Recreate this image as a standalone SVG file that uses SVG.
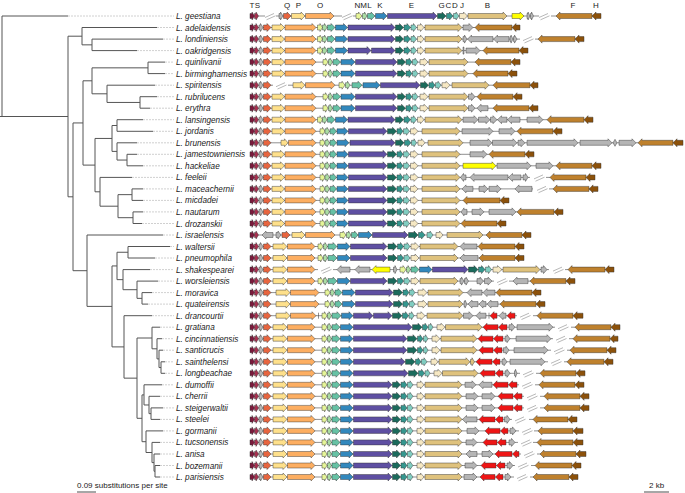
<svg xmlns="http://www.w3.org/2000/svg" width="685" height="493" viewBox="0 0 685 493">
<style>
.lab{font-family:"Liberation Sans",Arial,sans-serif;font-size:8.2px;font-style:italic;fill:#222}
.hd{font-family:"Liberation Sans",Arial,sans-serif;font-size:8px;fill:#222;text-anchor:middle}
.sc{font-family:"Liberation Sans",Arial,sans-serif;font-size:8px;fill:#222}
.ln{fill:none;stroke:#444;stroke-width:.6}
.br{fill:none;stroke:#9a9a9a;stroke-width:.7}
.tr{fill:none;stroke:#555;stroke-width:1}
.ext{fill:none;stroke:#c4c4c4;stroke-width:.8;stroke-dasharray:2 1}
.bar{fill:none;stroke:#222;stroke-width:.8}
.T,.S,.gr,.Q,.P,.O,.N,.M,.L,.K,.E,.G,.C,.D,.J,.B,.F,.H,.R,.Y{stroke:#333;stroke-width:.45;stroke-linejoin:round}
.T{fill:#7b1a3c}.S{fill:#a8304f}.gr{fill:#b5b5b5}.Q{fill:#e8653f}.P{fill:#fee08b}.O{fill:#fdae61}
.N{fill:#e6f598}.M{fill:#abdda4}.L{fill:#66c2a5}.K{fill:#3288bd}.E{fill:#5e4fa2}
.G{fill:#1b6b5c}.C{fill:#35978f}.D{fill:#80cdc1}.J{fill:#f6e8c3}.B{fill:#dfc27d}
.F{fill:#bf812d}.H{fill:#8c510a}.R{fill:#ee1515}.Y{fill:#ffff00}
</style>
<defs>
<path id="brk" class="br" d="M0 1.5l9-4M1.5 3.8l9-4"/>
<g id="ts"><path class="T" d="M250-2.5H252V-4L254.5 0 252 4V2.5H250Z"/><path class="S" d="M254.5-2.5H256V-4L258.5 0 256 4V2.5H254.5Z"/></g>
<g id="lead"><use href="#ts"/><path class="gr" d="M259-2.5H260.5V-4L263 0 260.5 4V2.5H259Z"/><path class="Q" d="M263.5-2.5H267V-4L271 0 267 4V2.5H263.5Z"/></g>
<g id="po"><path class="P" d="M272-2.5H280.5V-4L284.5 0 280.5 4V2.5H272Z"/><path class="O" d="M285-2.5H312V-4L316 0 312 4V2.5H285Z"/></g>
<g id="nk"><path class="N" d="M317.5-2.5H320V-4L322.5 0 320 4V2.5H317.5Z"/><path class="M" d="M322.5-2.5H324.5V-4L327 0 324.5 4V2.5H322.5Z"/><path class="L" d="M327.5-2.5H331V-4L335 0 331 4V2.5H327.5Z"/><path class="K" d="M335.5-2.5H343.5V-4L347.5 0 343.5 4V2.5H335.5Z"/></g>
<g id="gb"><path class="G" d="M395.5-2.5H399.5V-4L403.5 0 399.5 4V2.5H395.5Z"/><path class="C" d="M404-2.5H407V-4L410.5 0 407 4V2.5H404Z"/><path class="D" d="M411-2.5H413.5V-4L416.5 0 413.5 4V2.5H411Z"/><path class="J" d="M417.5-2.5H420.5V-4L424 0 420.5 4V2.5H417.5Z"/><path class="B" d="M425-2.5H458V-4L462 0 458 4V2.5H425Z"/></g>
<g id="mA"><use href="#po"/><use href="#nk"/><path class="E" d="M348-2.5H391V-4L395 0 391 4V2.5H348Z"/><use href="#gb"/></g>
<g id="mB"><use href="#po"/><path class="N" d="M323-2.5H325.5V-4L328 0 325.5 4V2.5H323Z"/><path class="M" d="M328.5-2.5H330V-4L332.5 0 330 4V2.5H328.5Z"/><path class="L" d="M333-2.5H336.5V-4L340.5 0 336.5 4V2.5H333Z"/><path class="K" d="M341-2.5H351V-4L355 0 351 4V2.5H341Z"/><path class="E" d="M355.5-2.5H393V-4L397 0 393 4V2.5H355.5Z"/><path class="G" d="M397.5-2.5H401.5V-4L405.5 0 401.5 4V2.5H397.5Z"/><path class="C" d="M406-2.5H409V-4L412 0 409 4V2.5H406Z"/><path class="D" d="M412.5-2.5H415V-4L418 0 415 4V2.5H412.5Z"/><path class="J" d="M420-2.5H424V-4L428 0 424 4V2.5H420Z"/><path class="B" d="M429-2.5H464V-4L468 0 464 4V2.5H429Z"/></g>
<g id="mM"><use href="#po"/><path class="N" d="M320-2.5H322.5V-4L325 0 322.5 4V2.5H320Z"/><path class="M" d="M325-2.5H327V-4L329.5 0 327 4V2.5H325Z"/><path class="L" d="M330-2.5H333V-4L336.5 0 333 4V2.5H330Z"/><path class="K" d="M337-2.5H344V-4L348 0 344 4V2.5H337Z"/><path class="E" d="M348.5-2.5H383V-4L387 0 383 4V2.5H348.5Z"/><path class="G" d="M387.5-2.5H392.5V-4L396.5 0 392.5 4V2.5H387.5Z"/><path class="C" d="M397-2.5H400V-4L403 0 400 4V2.5H397Z"/><path class="D" d="M403.5-2.5H406.5V-4L409.5 0 406.5 4V2.5H403.5Z"/><path class="J" d="M410.5-2.5H414V-4L418 0 414 4V2.5H410.5Z"/><path class="B" d="M422-2.5H456V-4L460 0 456 4V2.5H422Z"/></g>
<g id="pw"><path class="P" d="M273-2.5H283V-4L287 0 283 4V2.5H273Z"/><path class="O" d="M287.5-2.5H311V-4L315 0 311 4V2.5H287.5Z"/></g>
<g id="mW"><use href="#pw"/><path class="N" d="M318-2.5H320.5V-4L323 0 320.5 4V2.5H318Z"/><path class="M" d="M323.5-2.5H325V-4L327.5 0 325 4V2.5H323.5Z"/><path class="L" d="M328-2.5H333V-4L337 0 333 4V2.5H328Z"/><path class="K" d="M337.5-2.5H346V-4L350 0 346 4V2.5H337.5Z"/><path class="E" d="M350.5-2.5H383V-4L387 0 383 4V2.5H350.5Z"/><path class="G" d="M388-2.5H393V-4L397 0 393 4V2.5H388Z"/><path class="C" d="M397.5-2.5H400.5V-4L403.5 0 400.5 4V2.5H397.5Z"/><path class="D" d="M404-2.5H407V-4L410 0 407 4V2.5H404Z"/><path class="J" d="M411-2.5H415V-4L419 0 415 4V2.5H411Z"/><path class="B" d="M420-2.5H454V-4L458 0 454 4V2.5H420Z"/></g>
<g id="mV"><path class="P" d="M276-2.5H286V-4L290 0 286 4V2.5H276Z"/><path class="O" d="M290.5-2.5H315V-4L319 0 315 4V2.5H290.5Z"/><path class="N" d="M325-2.5H327.5V-4L330 0 327.5 4V2.5H325Z"/><path class="M" d="M330.5-2.5H332V-4L334.5 0 332 4V2.5H330.5Z"/><path class="L" d="M335-2.5H338V-4L342 0 338 4V2.5H335Z"/><path class="K" d="M342.5-2.5H351V-4L355 0 351 4V2.5H342.5Z"/><path class="E" d="M355.5-2.5H389V-4L393 0 389 4V2.5H355.5Z"/><path class="G" d="M393.5-2.5H398.5V-4L402.5 0 398.5 4V2.5H393.5Z"/><path class="C" d="M403-2.5H406V-4L409 0 406 4V2.5H403Z"/><path class="D" d="M409.5-2.5H412V-4L415 0 412 4V2.5H409.5Z"/><path class="J" d="M418-2.5H423V-4L427 0 423 4V2.5H418Z"/><path class="B" d="M428-2.5H459V-4L463 0 459 4V2.5H428Z"/></g>
<g id="pk"><use href="#pw"/><path class="N" d="M322-2.5H324.5V-4L327 0 324.5 4V2.5H322Z"/><path class="M" d="M327.5-2.5H329V-4L331.5 0 329 4V2.5H327.5Z"/><path class="L" d="M332-2.5H336V-4L340 0 336 4V2.5H332Z"/><path class="K" d="M340.5-2.5H349V-4L353 0 349 4V2.5H340.5Z"/></g>
<g id="mZ"><use href="#pk"/><path class="E" d="M353.5-2.5H388V-4L392 0 388 4V2.5H353.5Z"/><path class="G" d="M392.5-2.5H396.5V-4L400.5 0 396.5 4V2.5H392.5Z"/><path class="C" d="M401-2.5H404V-4L407 0 404 4V2.5H401Z"/><path class="D" d="M407.5-2.5H410V-4L413 0 410 4V2.5H407.5Z"/><path class="J" d="M417-2.5H420.5V-4L424 0 420.5 4V2.5H417Z"/><path class="B" d="M425-2.5H458V-4L462 0 458 4V2.5H425Z"/></g>
<g id="e29"><path class="E" d="M353.5-2.5H403V-4L407 0 403 4V2.5H353.5Z"/><path class="G" d="M407.5-2.5H413V-4L417 0 413 4V2.5H407.5Z"/><path class="C" d="M417.5-2.5H420V-4L423 0 420 4V2.5H417.5Z"/><path class="D" d="M423.5-2.5H425.5V-4L428 0 425.5 4V2.5H423.5Z"/><path class="J" d="M432-2.5H436V-4L440 0 436 4V2.5H432Z"/><path class="B" d="M441-2.5H473V-4L477 0 473 4V2.5H441Z"/></g>
</defs>
<rect width="685" height="493" fill="#fff"/>

<g id="gene-labels">
<text class="hd" x="252" y="8">T</text><text class="hd" x="257.5" y="8">S</text><text class="hd" x="287" y="8">Q</text><text class="hd" x="298.5" y="8">P</text><text class="hd" x="320" y="8">O</text><text class="hd" x="357.5" y="8">N</text><text class="hd" x="363.5" y="8">M</text><text class="hd" x="369.5" y="8">L</text><text class="hd" x="380" y="8">K</text><text class="hd" x="411.5" y="8">E</text><text class="hd" x="441.5" y="8">G</text><text class="hd" x="448.5" y="8">C</text><text class="hd" x="455" y="8">D</text><text class="hd" x="462" y="8">J</text><text class="hd" x="487.5" y="8">B</text><text class="hd" x="573" y="8">F</text><text class="hd" x="596" y="8">H</text>
</g>

<g id="connectors">
<path class="ext" d="M68 16H174M157 27.5H174M163 39.1H174M137 50.6H174M165 62.1H174M165 73.6H174M155 85.2H174M157 96.7H174M150 108.2H174M143 119.7H174M153 131.3H174M137 142.8H174M137 154.3H174M143 165.8H174M132 177.4H174M143 188.9H174M143 200.4H174M143 211.9H174M142 223.5H174M163 235H174M170 246.5H174M155 258H174M150 269.6H174M158 281.1H174M152 292.6H174M148 304.1H174M152 315.7H174M160 327.2H174M162 338.7H174M163 350.2H174M165 361.8H174M165 373.3H174M162 384.8H174M160 396.3H174M163 407.9H174M160 419.4H174M163 430.9H174M160 442.4H174M160 454H174M160 465.5H174M160 477H174"/>
<path class="tr" d="M2 16V116.5M0 116.5H68M2 16H68
M68 36.2V196.8M68 36.2H82M68 196.8H73
M82 27.5V44.85M82 27.5H157M82 44.85H92
M92 39.1V50.6M92 39.1H163M92 50.6H137
M73 122.95V270.7M73 122.95H83M73 270.7H87
M83 80.8V165.1M83 80.8H92M83 165.1H95
M92 67.85V93.8M92 67.85H148M92 93.8H107
M148 62.1V73.6M148 62.1H165M148 73.6H165
M107 85.2V102.45M107 85.2H155M107 102.45H140
M140 96.7V108.2M140 96.7H157M140 108.2H150
M95 138.45V191.8M95 138.45H112M95 191.8H100
M112 125.5V151.4M112 125.5H117M112 151.4H117
M117 119.7V131.3M117 119.7H143M117 131.3H153
M117 142.8V160.05M117 142.8H137M117 160.05H127
M127 154.3V165.8M127 154.3H137M127 165.8H143
M100 177.4V206.2M100 177.4H132M100 206.2H118
M118 194.65V217.7M118 194.65H132M118 217.7H133
M132 188.9V200.4M132 188.9H143M132 200.4H143
M133 211.9V223.5M133 211.9H143M133 223.5H142
M87 235V306.4M87 235H163M87 306.4H112
M112 265.95V346.9M112 265.95H117M112 346.9H124
M117 252.25V279.65M117 252.25H128M117 279.65H123
M128 246.5V258M128 246.5H170M128 258H155
M123 269.6V289.7M123 269.6H150M123 289.7H137
M137 281.1V298.35M137 281.1H158M137 298.35H142
M142 292.6V304.1M142 292.6H152M142 304.1H148
M124 315.7V378.15M124 315.7H152M124 378.15H137
M137 338V418.3M137 338H152M137 418.3H142
M152 327.2V348.8M152 327.2H160M152 348.8H157
M157 338.7V358.9M157 338.7H162M157 358.9H159
M159 350.2V367.55M159 350.2H163M159 367.55H161
M161 361.8V373.3M161 361.8H165M161 373.3H165
M142 394.9V441.7M142 394.9H144M142 441.7H146
M144 384.8V404.98M144 384.8H162M144 404.98H149
M149 396.3V413.65M149 396.3H160M149 413.65H151
M151 407.9V419.4M151 407.9H163M151 419.4H160
M146 430.9V452.5M146 430.9H163M146 452.5H152
M152 442.4V462.6M152 442.4H160M152 462.6H154
M154 454V471.25M154 454H160M154 471.25H155
M155 465.5V477M155 465.5H160M155 477H160"/>
</g>

<g id="geestiana" transform="translate(0,16)"><text class="lab" x="176" y="3">L. geestiana</text>
<path class="ln" d="M250 0H265M276 0H342M353 0H539M551 0H601"/>
<use href="#ts"/><use href="#brk" x="265"/>
<path class="gr" d="M279-2.5H280.5V-4L283 0 280.5 4V2.5H279Z"/><path class="Q" d="M283.5-2.5H287V-4L291 0 287 4V2.5H283.5Z"/><path class="P" d="M291.5-2.5H301V-4L305 0 301 4V2.5H291.5Z"/><path class="O" d="M305.5-2.5H330V-4L334 0 330 4V2.5H305.5Z"/>
<use href="#brk" x="342"/>
<path class="N" d="M356-2.5H358.5V-4L362 0 358.5 4V2.5H356Z"/><path class="M" d="M362.5-2.5H364.5V-4L367 0 364.5 4V2.5H362.5Z"/><path class="L" d="M367.5-2.5H371V-4L375 0 371 4V2.5H367.5Z"/><path class="K" d="M375.5-2.5H383V-4L387 0 383 4V2.5H375.5Z"/><path class="E" d="M387.5-2.5H433V-4L437 0 433 4V2.5H387.5Z"/><path class="G" d="M437.5-2.5H442V-4L446 0 442 4V2.5H437.5Z"/><path class="C" d="M446.5-2.5H449.5V-4L453 0 449.5 4V2.5H446.5Z"/><path class="D" d="M453.5-2.5H456V-4L459 0 456 4V2.5H453.5Z"/><path class="J" d="M459.5-2.5H463.5V-4L467.5 0 463.5 4V2.5H459.5Z"/><path class="B" d="M468-2.5H503V-4L507 0 503 4V2.5H468Z"/><path class="Y" d="M512-2.5H520V-4L524 0 520 4V2.5H512Z"/><path class="gr" d="M527-2.5H528V-4L530 0 528 4V2.5H527Z"/><path class="gr" d="M530.5-2.5H531.5V-4L533.5 0 531.5 4V2.5H530.5Z"/>
<use href="#brk" x="539"/>
<path class="F" d="M592-2.5H560V-4L556 0 560 4V2.5H592Z"/><path class="H" d="M601-2.5H596V-4L592 0 596 4V2.5H601Z"/></g>

<g id="adelaidensis" transform="translate(0,27.5)"><text class="lab" x="176" y="3">L. adelaidensis</text>
<path class="ln" d="M250 0H520"/><use href="#lead"/><use href="#mA"/>
<path class="gr" d="M463-2.5H469V-4L473 0 469 4V2.5H463Z"/><path class="F" d="M512-2.5H479V-4L475 0 479 4V2.5H512Z"/><path class="H" d="M520-2.5H516V-4L512 0 516 4V2.5H520Z"/></g>

<g id="londiniensis" transform="translate(0,39.1)"><text class="lab" x="176" y="3">L. londiniensis</text>
<path class="ln" d="M250 0H520M535 0H584"/><use href="#lead"/><use href="#mA"/>
<path class="gr" d="M463-2.5H464.5V-4L467 0 464.5 4V2.5H463Z"/><path class="gr" d="M493-2.5H471.5V-4L467.5 0 471.5 4V2.5H493Z"/><path class="gr" d="M509-2.5H497.5V-4L493.5 0 497.5 4V2.5H509Z"/><path class="gr" d="M510-2.5H511V-4L513 0 511 4V2.5H510Z"/><path class="gr" d="M513.5-2.5H514.5V-4L517 0 514.5 4V2.5H513.5Z"/>
<use href="#brk" x="523"/>
<path class="F" d="M575-2.5H542V-4L538 0 542 4V2.5H575Z"/><path class="H" d="M584-2.5H579V-4L575 0 579 4V2.5H584Z"/></g>

<g id="oakridgensis" transform="translate(0,50.6)"><text class="lab" x="176" y="3">L. oakridgensis</text>
<path class="ln" d="M250 0H528"/><use href="#lead"/><use href="#po"/><use href="#nk"/>
<path class="E" d="M348-2.5H367V-4L371 0 367 4V2.5H348Z"/><path class="E" d="M371.5-2.5H391V-4L395 0 391 4V2.5H371.5Z"/><use href="#gb"/>
<path class="gr" d="M463-3.5h1v7h-1Z"/><path class="gr" d="M466-2.5H476V-4L480 0 476 4V2.5H466Z"/><path class="F" d="M519-2.5H487V-4L483 0 487 4V2.5H519Z"/><path class="H" d="M528-2.5H523V-4L519 0 523 4V2.5H528Z"/></g>

<g id="quinlivanii" transform="translate(0,62.1)"><text class="lab" x="176" y="3">L. quinlivanii</text>
<path class="ln" d="M250 0H520"/><use href="#lead"/><use href="#mB"/>
<path class="F" d="M511-2.5H479V-4L475 0 479 4V2.5H511Z"/><path class="H" d="M520-2.5H515V-4L511 0 515 4V2.5H520Z"/></g>

<g id="birminghamensis" transform="translate(0,73.6)"><text class="lab" x="176" y="3">L. birminghamensis</text>
<path class="ln" d="M250 0H517"/><use href="#lead"/><use href="#mB"/>
<path class="F" d="M508-2.5H477V-4L473 0 477 4V2.5H508Z"/><path class="H" d="M517-2.5H512V-4L508 0 512 4V2.5H517Z"/></g>

<g id="spiritensis" transform="translate(0,85.2)"><text class="lab" x="176" y="3">L. spiritensis</text>
<path class="ln" d="M250 0H273M288 0H538"/><use href="#lead"/><use href="#brk" x="276"/>
<path class="P" d="M293-2.5H301V-4L305 0 301 4V2.5H293Z"/><path class="O" d="M305.5-2.5H331V-4L335 0 331 4V2.5H305.5Z"/><path class="N" d="M339-2.5H342V-4L345 0 342 4V2.5H339Z"/><path class="M" d="M345.5-2.5H347.5V-4L350 0 347.5 4V2.5H345.5Z"/><path class="L" d="M352-2.5H358V-4L362 0 358 4V2.5H352Z"/><path class="K" d="M363-2.5H376V-4L380 0 376 4V2.5H363Z"/><path class="E" d="M380.5-2.5H416V-4L420 0 416 4V2.5H380.5Z"/><path class="G" d="M420.5-2.5H424.5V-4L428.5 0 424.5 4V2.5H420.5Z"/><path class="C" d="M429-2.5H432V-4L435 0 432 4V2.5H429Z"/><path class="D" d="M435.5-2.5H438V-4L441 0 438 4V2.5H435.5Z"/><path class="J" d="M442-2.5H446V-4L450 0 446 4V2.5H442Z"/><path class="B" d="M452-2.5H485V-4L489 0 485 4V2.5H452Z"/><path class="F" d="M530-2.5H497V-4L493 0 497 4V2.5H530Z"/><path class="H" d="M538-2.5H534V-4L530 0 534 4V2.5H538Z"/></g>

<g id="rubrilucens" transform="translate(0,96.7)"><text class="lab" x="176" y="3">L. rubrilucens</text>
<path class="ln" d="M250 0H522"/><use href="#lead"/><use href="#mB"/>
<path class="gr" d="M468.5-2.5H471.5V-4L475 0 471.5 4V2.5H468.5Z"/><path class="F" d="M513-2.5H481V-4L477 0 481 4V2.5H513Z"/><path class="H" d="M522-2.5H517V-4L513 0 517 4V2.5H522Z"/></g>

<g id="erythra" transform="translate(0,108.2)"><text class="lab" x="176" y="3">L. erythra</text>
<path class="ln" d="M250 0H538"/><use href="#lead"/><use href="#mB"/>
<path class="gr" d="M468.5-2.5H471.5V-4L475 0 471.5 4V2.5H468.5Z"/><path class="gr" d="M488-2.5H481V-4L477 0 481 4V2.5H488Z"/><path class="F" d="M529-2.5H497V-4L493 0 497 4V2.5H529Z"/><path class="H" d="M538-2.5H533V-4L529 0 533 4V2.5H538Z"/></g>

<g id="lansingensis" transform="translate(0,119.7)"><text class="lab" x="176" y="3">L. lansingensis</text>
<path class="ln" d="M250 0H593"/><use href="#lead"/><use href="#mA"/>
<path class="gr" d="M463-2.5H474V-4L478 0 474 4V2.5H463Z"/><path class="gr" d="M478.5-2.5H486V-4L490 0 486 4V2.5H478.5Z"/><path class="gr" d="M490.5-2.5H493V-4L497 0 493 4V2.5H490.5Z"/><path class="gr" d="M507-2.5H501.5V-4L497.5 0 501.5 4V2.5H507Z"/><path class="gr" d="M520-2.5H511.5V-4L507.5 0 511.5 4V2.5H520Z"/><path class="gr" d="M527-2.5H539V-4L543 0 539 4V2.5H527Z"/><path class="F" d="M584-2.5H551V-4L547 0 551 4V2.5H584Z"/><path class="H" d="M593-2.5H588V-4L584 0 588 4V2.5H593Z"/></g>

<g id="jordanis" transform="translate(0,131.3)"><text class="lab" x="176" y="3">L. jordanis</text>
<path class="ln" d="M250 0H562"/><use href="#lead"/><use href="#mM"/>
<path class="gr" d="M462-2.5H489V-4L493 0 489 4V2.5H462Z"/><path class="gr" d="M499-2.5H511V-4L515 0 511 4V2.5H499Z"/><path class="F" d="M553-2.5H521V-4L517 0 521 4V2.5H553Z"/><path class="H" d="M562-2.5H557V-4L553 0 557 4V2.5H562Z"/></g>

<g id="brunensis" transform="translate(0,142.8)"><text class="lab" x="176" y="3">L. brunensis</text>
<path class="ln" d="M250 0H683"/><use href="#lead"/>
<path class="P" d="M281-2.5H284.5V-4L288 0 284.5 4V2.5H281Z"/><path class="O" d="M288.5-2.5H312V-4L316 0 312 4V2.5H288.5Z"/><path class="N" d="M320-2.5H322.5V-4L325 0 322.5 4V2.5H320Z"/><path class="M" d="M325-2.5H327V-4L329.5 0 327 4V2.5H325Z"/><path class="L" d="M330-2.5H333V-4L336.5 0 333 4V2.5H330Z"/><path class="K" d="M337-2.5H345V-4L349 0 345 4V2.5H337Z"/><path class="E" d="M350-2.5H391V-4L395 0 391 4V2.5H350Z"/><path class="G" d="M395.5-2.5H400V-4L404 0 400 4V2.5H395.5Z"/><path class="C" d="M404.5-2.5H407.5V-4L411 0 407.5 4V2.5H404.5Z"/><path class="D" d="M411.5-2.5H414V-4L416.5 0 414 4V2.5H411.5Z"/><path class="J" d="M418-2.5H421.5V-4L425 0 421.5 4V2.5H418Z"/><path class="B" d="M428-2.5H459V-4L463 0 459 4V2.5H428Z"/>
<path class="gr" d="M470-2.5H488V-4L492 0 488 4V2.5H470Z"/><path class="gr" d="M492.5-2.5H513V-4L517 0 513 4V2.5H492.5Z"/><path class="gr" d="M518-2.5H521V-4L525 0 521 4V2.5H518Z"/><path class="gr" d="M527-2.5H574V-4L578 0 574 4V2.5H527Z"/><path class="gr" d="M580-2.5H608V-4L612 0 608 4V2.5H580Z"/><path class="gr" d="M613 0L615-3.5 617 0 615 3.5Z"/><path class="gr" d="M619-2.5H632V-4L636 0 632 4V2.5H619Z"/><path class="F" d="M673-2.5H642V-4L638 0 642 4V2.5H673Z"/><path class="H" d="M683-2.5H677V-4L673 0 677 4V2.5H683Z"/></g>

<g id="jamestowniensis" transform="translate(0,154.3)"><text class="lab" x="176" y="3">L. jamestowniensis</text>
<path class="ln" d="M250 0H534"/><use href="#lead"/><use href="#mM"/>
<path class="gr" d="M470-2.5H483V-4L487 0 483 4V2.5H470Z"/><path class="F" d="M525-2.5H493V-4L489 0 493 4V2.5H525Z"/><path class="H" d="M534-2.5H529V-4L525 0 529 4V2.5H534Z"/></g>

<g id="hackeliae" transform="translate(0,165.8)"><text class="lab" x="176" y="3">L. hackeliae</text>
<path class="ln" d="M250 0H601"/><use href="#lead"/><use href="#mM"/>
<path class="Y" d="M463-2.5H492V-4L496 0 492 4V2.5H463Z"/><path class="gr" d="M497-2.5H527V-4L531 0 527 4V2.5H497Z"/><path class="gr" d="M536-2.5H549V-4L553 0 549 4V2.5H536Z"/><path class="F" d="M592-2.5H560V-4L556 0 560 4V2.5H592Z"/><path class="H" d="M601-2.5H596V-4L592 0 596 4V2.5H601Z"/></g>

<g id="feeleii" transform="translate(0,177.4)"><text class="lab" x="176" y="3">L. feeleii</text>
<path class="ln" d="M250 0H530M546 0H595"/><use href="#lead"/><use href="#mM"/>
<path class="gr" d="M466-2.5H463.5V-4L460.5 0 463.5 4V2.5H466Z"/><path class="gr" d="M508-2.5H474V-4L470 0 474 4V2.5H508Z"/><path class="gr" d="M521-2.5H512.5V-4L508.5 0 512.5 4V2.5H521Z"/><path class="gr" d="M523-2.5H525.5V-4L528 0 525.5 4V2.5H523Z"/>
<use href="#brk" x="534"/>
<path class="F" d="M586-2.5H554V-4L550 0 554 4V2.5H586Z"/><path class="H" d="M595-2.5H590V-4L586 0 590 4V2.5H595Z"/></g>

<g id="maceachernii" transform="translate(0,188.9)"><text class="lab" x="176" y="3">L. maceachernii</text>
<path class="ln" d="M250 0H533M549 0H598"/><use href="#lead"/><use href="#mM"/>
<path class="gr" d="M473-2.5H466V-4L462 0 466 4V2.5H473Z"/><path class="gr" d="M479-2.5H484V-4L488 0 484 4V2.5H479Z"/><path class="gr" d="M489-2.5H497V-4L501 0 497 4V2.5H489Z"/><path class="gr" d="M532-2.5H519V-4L515 0 519 4V2.5H532Z"/>
<use href="#brk" x="537"/>
<path class="F" d="M589-2.5H557V-4L553 0 557 4V2.5H589Z"/><path class="H" d="M598-2.5H593V-4L589 0 593 4V2.5H598Z"/></g>

<g id="micdadei" transform="translate(0,200.4)"><text class="lab" x="176" y="3">L. micdadei</text>
<path class="ln" d="M250 0H509"/><use href="#lead"/><use href="#mM"/>
<path class="F" d="M500-2.5H467V-4L463 0 467 4V2.5H500Z"/><path class="H" d="M509-2.5H504V-4L500 0 504 4V2.5H509Z"/></g>

<g id="nautarum" transform="translate(0,211.9)"><text class="lab" x="176" y="3">L. nautarum</text>
<path class="ln" d="M250 0H563"/><use href="#lead"/><use href="#mM"/>
<path class="gr" d="M467-2.5H464V-4L461 0 464 4V2.5H467Z"/><path class="gr" d="M472-2.5H480V-4L484 0 480 4V2.5H472Z"/><path class="gr" d="M489-2.5H512V-4L516 0 512 4V2.5H489Z"/><path class="F" d="M554-2.5H521V-4L517 0 521 4V2.5H554Z"/><path class="H" d="M563-2.5H558V-4L554 0 558 4V2.5H563Z"/></g>

<g id="drozanskii" transform="translate(0,223.5)"><text class="lab" x="176" y="3">L. drozanskii</text>
<path class="ln" d="M250 0H506"/><use href="#lead"/><use href="#mM"/>
<path class="F" d="M497-2.5H465V-4L461 0 465 4V2.5H497Z"/><path class="H" d="M506-2.5H501V-4L497 0 501 4V2.5H506Z"/></g>

<g id="israelensis" transform="translate(0,235)"><text class="lab" x="176" y="3">L. israelensis</text>
<path class="ln" d="M250 0H531"/><use href="#ts"/>
<path class="gr" d="M273-2.5H266V-4L262 0 266 4V2.5H273Z"/><path class="gr" d="M276-2.5H278V-4L281 0 278 4V2.5H276Z"/><path class="Q" d="M282-2.5H286V-4L290 0 286 4V2.5H282Z"/><path class="P" d="M292-2.5H301V-4L305 0 301 4V2.5H292Z"/><path class="O" d="M305.5-2.5H331V-4L335 0 331 4V2.5H305.5Z"/><path class="N" d="M340-2.5H343V-4L346 0 343 4V2.5H340Z"/><path class="M" d="M346.5-2.5H348.5V-4L351 0 348.5 4V2.5H346.5Z"/><path class="L" d="M351.5-2.5H354.5V-4L358 0 354.5 4V2.5H351.5Z"/><path class="K" d="M358.5-2.5H368V-4L372 0 368 4V2.5H358.5Z"/><path class="E" d="M372.5-2.5H404V-4L408 0 404 4V2.5H372.5Z"/><path class="G" d="M408.5-2.5H414V-4L418 0 414 4V2.5H408.5Z"/><path class="C" d="M418.5-2.5H421.5V-4L425 0 421.5 4V2.5H418.5Z"/><path class="D" d="M427-2.5H430V-4L433 0 430 4V2.5H427Z"/><path class="J" d="M436-2.5H439.5V-4L443 0 439.5 4V2.5H436Z"/><path class="B" d="M447-2.5H479V-4L483 0 479 4V2.5H447Z"/><path class="F" d="M522-2.5H490V-4L486 0 490 4V2.5H522Z"/><path class="H" d="M531-2.5H526V-4L522 0 526 4V2.5H531Z"/></g>

<g id="waltersii" transform="translate(0,246.5)"><text class="lab" x="176" y="3">L. waltersii</text>
<path class="ln" d="M250 0H524"/><use href="#lead"/><use href="#mW"/>
<path class="gr" d="M477-2.5H464V-4L460 0 464 4V2.5H477Z"/><path class="F" d="M515-2.5H482V-4L478 0 482 4V2.5H515Z"/><path class="H" d="M524-2.5H519V-4L515 0 519 4V2.5H524Z"/></g>

<g id="pneumophila" transform="translate(0,258)"><text class="lab" x="176" y="3">L. pneumophila</text>
<path class="ln" d="M250 0H524"/><use href="#lead"/><use href="#mW"/>
<path class="gr" d="M478-2.5H464V-4L460 0 464 4V2.5H478Z"/><path class="F" d="M515-2.5H483V-4L479 0 483 4V2.5H515Z"/><path class="H" d="M524-2.5H519V-4L515 0 519 4V2.5H524Z"/></g>

<g id="shakespearei" transform="translate(0,269.6)"><text class="lab" x="176" y="3">L. shakespearei</text>
<path class="ln" d="M250 0H318M333 0H549M565 0H614"/><use href="#lead"/><use href="#pw"/>
<use href="#brk" x="321"/>
<path class="gr" d="M350-2.5H341V-4L337 0 341 4V2.5H350Z"/><path class="gr" d="M370-2.5H359V-4L355 0 359 4V2.5H370Z"/><path class="Y" d="M390-2.5H376V-4L372 0 376 4V2.5H390Z"/><path class="gr" d="M393.5-2.5H395V-4L397 0 395 4V2.5H393.5Z"/><path class="N" d="M400-2.5H403V-4L406 0 403 4V2.5H400Z"/><path class="M" d="M406.5-2.5H408V-4L410.5 0 408 4V2.5H406.5Z"/><path class="L" d="M411-2.5H415V-4L419 0 415 4V2.5H411Z"/><path class="K" d="M419.5-2.5H428V-4L432 0 428 4V2.5H419.5Z"/><path class="E" d="M432.5-2.5H464V-4L468 0 464 4V2.5H432.5Z"/><path class="G" d="M468.5-2.5H474V-4L478 0 474 4V2.5H468.5Z"/><path class="C" d="M478.5-2.5H481.5V-4L485 0 481.5 4V2.5H478.5Z"/><path class="D" d="M485.5-2.5H488.5V-4L491.5 0 488.5 4V2.5H485.5Z"/><path class="J" d="M493-2.5H497.5V-4L502 0 497.5 4V2.5H493Z"/><path class="B" d="M503-2.5H536V-4L540 0 536 4V2.5H503Z"/><path class="gr" d="M541-2.5H543.5V-4L547 0 543.5 4V2.5H541Z"/>
<use href="#brk" x="553"/>
<path class="F" d="M605-2.5H572V-4L568 0 572 4V2.5H605Z"/><path class="H" d="M614-2.5H609V-4L605 0 609 4V2.5H614Z"/></g>

<g id="worsleiensis" transform="translate(0,281.1)"><text class="lab" x="176" y="3">L. worsleiensis</text>
<path class="ln" d="M250 0H494M509 0H575"/><use href="#lead"/><use href="#mW"/>
<path class="gr" d="M460-2.5H461.5V-4L464 0 461.5 4V2.5H460Z"/><path class="gr" d="M464.5-2.5H466V-4L468.5 0 466 4V2.5H464.5Z"/><path class="gr" d="M477-2.5H480V-4L483.5 0 480 4V2.5H477Z"/><path class="gr" d="M484.5-2.5H488V-4L492 0 488 4V2.5H484.5Z"/>
<use href="#brk" x="497"/>
<path class="gr" d="M528-2.5H517V-4L513 0 517 4V2.5H528Z"/><path class="F" d="M566-2.5H534V-4L530 0 534 4V2.5H566Z"/><path class="H" d="M575-2.5H570V-4L566 0 570 4V2.5H575Z"/></g>

<g id="moravica" transform="translate(0,292.6)"><text class="lab" x="176" y="3">L. moravica</text>
<path class="ln" d="M250 0H541"/><use href="#lead"/><use href="#mV"/>
<path class="gr" d="M482-2.5H471V-4L467 0 471 4V2.5H482Z"/><path class="gr" d="M495-2.5H487V-4L483 0 487 4V2.5H495Z"/><path class="F" d="M532-2.5H500V-4L496 0 500 4V2.5H532Z"/><path class="H" d="M541-2.5H536V-4L532 0 536 4V2.5H541Z"/></g>

<g id="quateirensis" transform="translate(0,304.1)"><text class="lab" x="176" y="3">L. quateirensis</text>
<path class="ln" d="M250 0H545"/><use href="#lead"/><use href="#mV"/>
<path class="gr" d="M464-2.5H465V-4L467 0 465 4V2.5H464Z"/><path class="gr" d="M478-2.5H472V-4L468 0 472 4V2.5H478Z"/><path class="gr" d="M486-2.5H483V-4L479 0 483 4V2.5H486Z"/><path class="gr" d="M498-2.5H491V-4L487 0 491 4V2.5H498Z"/><path class="F" d="M536-2.5H504V-4L500 0 504 4V2.5H536Z"/><path class="H" d="M545-2.5H540V-4L536 0 540 4V2.5H545Z"/></g>

<g id="drancourtii" transform="translate(0,315.7)"><text class="lab" x="176" y="3">L. drancourtii</text>
<path class="ln" d="M250 0H517M533 0H583M318.5-3V3M489-3V3"/><use href="#lead"/>
<path class="P" d="M276-2.5H286V-4L290 0 286 4V2.5H276Z"/><path class="O" d="M290.5-2.5H312V-4L316 0 312 4V2.5H290.5Z"/><path class="N" d="M322-2.5H324.5V-4L327 0 324.5 4V2.5H322Z"/><path class="M" d="M327.5-2.5H329V-4L331.5 0 329 4V2.5H327.5Z"/><path class="L" d="M332-2.5H337V-4L341 0 337 4V2.5H332Z"/><path class="K" d="M341.5-2.5H349V-4L353 0 349 4V2.5H341.5Z"/><path class="E" d="M353.5-2.5H369V-4L373 0 369 4V2.5H353.5Z"/><path class="E" d="M373.5-2.5H388V-4L392 0 388 4V2.5H373.5Z"/><path class="G" d="M392.5-2.5H398V-4L402 0 398 4V2.5H392.5Z"/><path class="C" d="M402.5-2.5H405.5V-4L408.5 0 405.5 4V2.5H402.5Z"/><path class="D" d="M409-2.5H411.5V-4L414 0 411.5 4V2.5H409Z"/><path class="J" d="M417-2.5H421V-4L425 0 421 4V2.5H417Z"/><path class="B" d="M427-2.5H459V-4L463 0 459 4V2.5H427Z"/>
<path class="gr" d="M463.5-2.5H469V-4L473 0 469 4V2.5H463.5Z"/><path class="gr" d="M486-2.5H480V-4L476 0 480 4V2.5H486Z"/><path class="R" d="M497-2.5H494V-4L490 0 494 4V2.5H497Z"/><path class="gr" d="M506-2.5H503V-4L499 0 503 4V2.5H506Z"/><path class="R" d="M515-2.5H511V-4L507 0 511 4V2.5H515Z"/>
<use href="#brk" x="520"/>
<path class="F" d="M573-2.5H541V-4L537 0 541 4V2.5H573Z"/><path class="H" d="M583-2.5H577V-4L573 0 577 4V2.5H583Z"/></g>

<g id="gratiana" transform="translate(0,327.2)"><text class="lab" x="176" y="3">L. gratiana</text>
<path class="ln" d="M250 0H555M571 0H620"/><use href="#lead"/><use href="#pk"/>
<path class="E" d="M353.5-2.5H408V-4L412 0 408 4V2.5H353.5Z"/><path class="G" d="M412.5-2.5H418V-4L422 0 418 4V2.5H412.5Z"/><path class="C" d="M422.5-2.5H425V-4L428 0 425 4V2.5H422.5Z"/><path class="D" d="M428.5-2.5H430.5V-4L433 0 430.5 4V2.5H428.5Z"/><path class="J" d="M437-2.5H441V-4L445 0 441 4V2.5H437Z"/><path class="B" d="M445.5-2.5H478V-4L482 0 478 4V2.5H445.5Z"/>
<path class="R" d="M498-2.5H487V-4L483 0 487 4V2.5H498Z"/><path class="R" d="M507-2.5H502.5V-4L498.5 0 502.5 4V2.5H507Z"/><path class="gr" d="M509-2.5H511.5V-4L515 0 511.5 4V2.5H509Z"/><path class="gr" d="M517-2.5H549V-4L553 0 549 4V2.5H517Z"/>
<use href="#brk" x="558"/>
<path class="F" d="M611-2.5H579V-4L575 0 579 4V2.5H611Z"/><path class="H" d="M620-2.5H615V-4L611 0 615 4V2.5H620Z"/></g>

<g id="cincinnatiensis" transform="translate(0,338.7)"><text class="lab" x="176" y="3">L. cincinnatiensis</text>
<path class="ln" d="M250 0H553M569 0H618"/><use href="#lead"/><use href="#pk"/><use href="#e29"/>
<path class="R" d="M493-2.5H482V-4L478 0 482 4V2.5H493Z"/><path class="R" d="M503-2.5H497.5V-4L493.5 0 497.5 4V2.5H503Z"/><path class="gr" d="M505-2.5H507V-4L510 0 507 4V2.5H505Z"/><path class="gr" d="M516-2.5H547V-4L551 0 547 4V2.5H516Z"/>
<use href="#brk" x="556"/>
<path class="F" d="M610-2.5H577V-4L573 0 577 4V2.5H610Z"/><path class="H" d="M618-2.5H614V-4L610 0 614 4V2.5H618Z"/></g>

<g id="santicrucis" transform="translate(0,350.2)"><text class="lab" x="176" y="3">L. santicrucis</text>
<path class="ln" d="M250 0H551M567 0H616"/><use href="#lead"/><use href="#pk"/><use href="#e29"/>
<path class="R" d="M493-2.5H483V-4L479 0 483 4V2.5H493Z"/><path class="R" d="M502-2.5H497.5V-4L493.5 0 497.5 4V2.5H502Z"/><path class="gr" d="M503.5-2.5H506V-4L509 0 506 4V2.5H503.5Z"/><path class="gr" d="M514-2.5H544V-4L548 0 544 4V2.5H514Z"/>
<use href="#brk" x="554"/>
<path class="F" d="M607-2.5H574V-4L570 0 574 4V2.5H607Z"/><path class="H" d="M616-2.5H611V-4L607 0 611 4V2.5H616Z"/></g>

<g id="sainthelensi" transform="translate(0,361.8)"><text class="lab" x="176" y="3">L. sainthelensi</text>
<path class="ln" d="M250 0H548M564 0H613"/><use href="#lead"/><use href="#pk"/>
<path class="E" d="M353.5-2.5H401V-4L405 0 401 4V2.5H353.5Z"/><path class="G" d="M405.5-2.5H411V-4L415 0 411 4V2.5H405.5Z"/><path class="C" d="M415.5-2.5H418V-4L421 0 418 4V2.5H415.5Z"/><path class="D" d="M421.5-2.5H424V-4L427 0 424 4V2.5H421.5Z"/><path class="J" d="M431-2.5H434.5V-4L438 0 434.5 4V2.5H431Z"/><path class="B" d="M439-2.5H466V-4L470 0 466 4V2.5H439Z"/><path class="B" d="M470.5-2.5H472V-4L474.5 0 472 4V2.5H470.5Z"/>
<path class="R" d="M492-2.5H480V-4L476 0 480 4V2.5H492Z"/><path class="R" d="M500-2.5H496.5V-4L492.5 0 496.5 4V2.5H500Z"/><path class="gr" d="M502-2.5H504V-4L507 0 504 4V2.5H502Z"/><path class="gr" d="M510-2.5H541V-4L545 0 541 4V2.5H510Z"/>
<use href="#brk" x="551"/>
<path class="F" d="M604-2.5H571V-4L567 0 571 4V2.5H604Z"/><path class="H" d="M613-2.5H608V-4L604 0 608 4V2.5H613Z"/></g>

<g id="longbeachae" transform="translate(0,373.3)"><text class="lab" x="176" y="3">L. longbeachae</text>
<path class="ln" d="M250 0H520M536 0H585"/><use href="#lead"/><use href="#pk"/>
<path class="E" d="M353.5-2.5H404V-4L408 0 404 4V2.5H353.5Z"/><path class="G" d="M408.5-2.5H414V-4L418 0 414 4V2.5H408.5Z"/><path class="C" d="M418.5-2.5H421.5V-4L424.5 0 421.5 4V2.5H418.5Z"/><path class="D" d="M425-2.5H427.5V-4L430 0 427.5 4V2.5H425Z"/><path class="J" d="M434-2.5H438V-4L442 0 438 4V2.5H434Z"/><path class="B" d="M442.5-2.5H474V-4L478 0 474 4V2.5H442.5Z"/>
<path class="R" d="M495-2.5H484V-4L480 0 484 4V2.5H495Z"/><path class="R" d="M503-2.5H499.5V-4L495.5 0 499.5 4V2.5H503Z"/><path class="gr" d="M505-2.5H507V-4L510 0 507 4V2.5H505Z"/><path class="gr" d="M514.5-2.5H515.5V-4L517 0 515.5 4V2.5H514.5Z"/>
<use href="#brk" x="523"/>
<path class="F" d="M576-2.5H544V-4L540 0 544 4V2.5H576Z"/><path class="H" d="M585-2.5H580V-4L576 0 580 4V2.5H585Z"/></g>

<g id="dumoffii" transform="translate(0,384.8)"><text class="lab" x="176" y="3">L. dumoffii</text>
<path class="ln" d="M250 0H519M535 0H584"/><use href="#lead"/><use href="#mZ"/>
<path class="gr" d="M465-2.5H472V-4L476 0 472 4V2.5H465Z"/><path class="gr" d="M492-2.5H483V-4L479 0 483 4V2.5H492Z"/><path class="R" d="M508-2.5H497V-4L493 0 497 4V2.5H508Z"/><path class="R" d="M517-2.5H512.5V-4L508.5 0 512.5 4V2.5H517Z"/>
<use href="#brk" x="522"/>
<path class="F" d="M575-2.5H543V-4L539 0 543 4V2.5H575Z"/><path class="H" d="M584-2.5H579V-4L575 0 579 4V2.5H584Z"/></g>

<g id="cherrii" transform="translate(0,396.3)"><text class="lab" x="176" y="3">L. cherrii</text>
<path class="ln" d="M250 0H524M540 0H589"/><use href="#lead"/><use href="#mZ"/>
<path class="gr" d="M466-2.5H474V-4L478 0 474 4V2.5H466Z"/><path class="gr" d="M482-2.5H491V-4L495 0 491 4V2.5H482Z"/><path class="R" d="M513-2.5H502V-4L498 0 502 4V2.5H513Z"/><path class="R" d="M522-2.5H517.5V-4L513.5 0 517.5 4V2.5H522Z"/>
<use href="#brk" x="527"/>
<path class="F" d="M580-2.5H548V-4L544 0 548 4V2.5H580Z"/><path class="H" d="M589-2.5H584V-4L580 0 584 4V2.5H589Z"/></g>

<g id="steigerwaltii" transform="translate(0,407.9)"><text class="lab" x="176" y="3">L. steigerwaltii</text>
<path class="ln" d="M250 0H524M540 0H589"/><use href="#lead"/><use href="#mZ"/>
<path class="gr" d="M466-2.5H474V-4L478 0 474 4V2.5H466Z"/><path class="gr" d="M482-2.5H491V-4L495 0 491 4V2.5H482Z"/><path class="R" d="M513-2.5H502V-4L498 0 502 4V2.5H513Z"/><path class="R" d="M522-2.5H517.5V-4L513.5 0 517.5 4V2.5H522Z"/>
<use href="#brk" x="527"/>
<path class="F" d="M580-2.5H548V-4L544 0 548 4V2.5H580Z"/><path class="H" d="M589-2.5H584V-4L580 0 584 4V2.5H589Z"/></g>

<g id="steelei" transform="translate(0,419.4)"><text class="lab" x="176" y="3">L. steelei</text>
<path class="ln" d="M250 0H512M529 0H577"/><use href="#lead"/><use href="#mZ"/>
<path class="gr" d="M477-2.5H466.5V-4L462.5 0 466.5 4V2.5H477Z"/><path class="R" d="M495-2.5H483V-4L479 0 483 4V2.5H495Z"/><path class="R" d="M503-2.5H499.5V-4L495.5 0 499.5 4V2.5H503Z"/><path class="gr" d="M504.5-2.5H507V-4L510 0 507 4V2.5H504.5Z"/>
<use href="#brk" x="515"/>
<path class="F" d="M568-2.5H537V-4L533 0 537 4V2.5H568Z"/><path class="H" d="M577-2.5H572V-4L568 0 572 4V2.5H577Z"/></g>

<g id="gormanii" transform="translate(0,430.9)"><text class="lab" x="176" y="3">L. gormanii</text>
<path class="ln" d="M250 0H519M534 0H583"/><use href="#lead"/><use href="#mZ"/>
<path class="gr" d="M467-2.5H475V-4L479 0 475 4V2.5H467Z"/><path class="R" d="M500-2.5H489V-4L485 0 489 4V2.5H500Z"/><path class="R" d="M508-2.5H504.5V-4L500.5 0 504.5 4V2.5H508Z"/><path class="gr" d="M510-2.5H512.5V-4L516 0 512.5 4V2.5H510Z"/>
<use href="#brk" x="522"/>
<path class="F" d="M573-2.5H542V-4L538 0 542 4V2.5H573Z"/><path class="H" d="M583-2.5H577V-4L573 0 577 4V2.5H583Z"/></g>

<g id="tucsonensis" transform="translate(0,442.4)"><text class="lab" x="176" y="3">L. tucsonensis</text>
<path class="ln" d="M250 0H518M533 0H583"/><use href="#lead"/><use href="#mZ"/>
<path class="gr" d="M466-2.5H473V-4L477 0 473 4V2.5H466Z"/><path class="R" d="M497-2.5H487V-4L483 0 487 4V2.5H497Z"/><path class="R" d="M506-2.5H501.5V-4L497.5 0 501.5 4V2.5H506Z"/><path class="gr" d="M509-2.5H511.5V-4L515 0 511.5 4V2.5H509Z"/>
<use href="#brk" x="521"/>
<path class="F" d="M573-2.5H541V-4L537 0 541 4V2.5H573Z"/><path class="H" d="M583-2.5H577V-4L573 0 577 4V2.5H583Z"/></g>

<g id="anisa" transform="translate(0,454)"><text class="lab" x="176" y="3">L. anisa</text>
<path class="ln" d="M250 0H521M537 0H586"/><use href="#lead"/><use href="#mZ"/>
<path class="gr" d="M477-2.5H470V-4L466 0 470 4V2.5H477Z"/><path class="gr" d="M482-2.5H489V-4L493 0 489 4V2.5H482Z"/><path class="R" d="M512-2.5H499V-4L495 0 499 4V2.5H512Z"/><path class="R" d="M519-2.5H516.5V-4L512.5 0 516.5 4V2.5H519Z"/>
<use href="#brk" x="524"/>
<path class="F" d="M576-2.5H544V-4L540 0 544 4V2.5H576Z"/><path class="H" d="M586-2.5H580V-4L576 0 580 4V2.5H586Z"/></g>

<g id="bozemanii" transform="translate(0,465.5)"><text class="lab" x="176" y="3">L. bozemanii</text>
<path class="ln" d="M250 0H515M531 0H581"/><use href="#lead"/><use href="#mZ"/>
<path class="gr" d="M465-2.5H473V-4L477 0 473 4V2.5H465Z"/><path class="R" d="M496-2.5H485V-4L481 0 485 4V2.5H496Z"/><path class="R" d="M505-2.5H500.5V-4L496.5 0 500.5 4V2.5H505Z"/><path class="gr" d="M507-2.5H509.5V-4L513 0 509.5 4V2.5H507Z"/>
<use href="#brk" x="518"/>
<path class="F" d="M572-2.5H539V-4L535 0 539 4V2.5H572Z"/><path class="H" d="M581-2.5H576V-4L572 0 576 4V2.5H581Z"/></g>

<g id="parisiensis" transform="translate(0,477)"><text class="lab" x="176" y="3">L. parisiensis</text>
<path class="ln" d="M250 0H514M530 0H578"/><use href="#lead"/><use href="#mZ"/>
<path class="gr" d="M464-2.5H473V-4L477 0 473 4V2.5H464Z"/><path class="R" d="M495-2.5H484V-4L480 0 484 4V2.5H495Z"/><path class="R" d="M503-2.5H499.5V-4L495.5 0 499.5 4V2.5H503Z"/><path class="gr" d="M505-2.5H507.5V-4L511 0 507.5 4V2.5H505Z"/>
<use href="#brk" x="517"/>
<path class="F" d="M569-2.5H537V-4L533 0 537 4V2.5H569Z"/><path class="H" d="M578-2.5H573V-4L569 0 573 4V2.5H578Z"/></g>

<g id="scale-bars">
<text class="sc" x="77" y="488">0.09 substitutions per site</text>
<path class="bar" d="M77 492H96"/>
<text class="sc" x="649" y="488">2 kb</text>
<path class="bar" d="M644 492H669"/>
</g>
</svg>
